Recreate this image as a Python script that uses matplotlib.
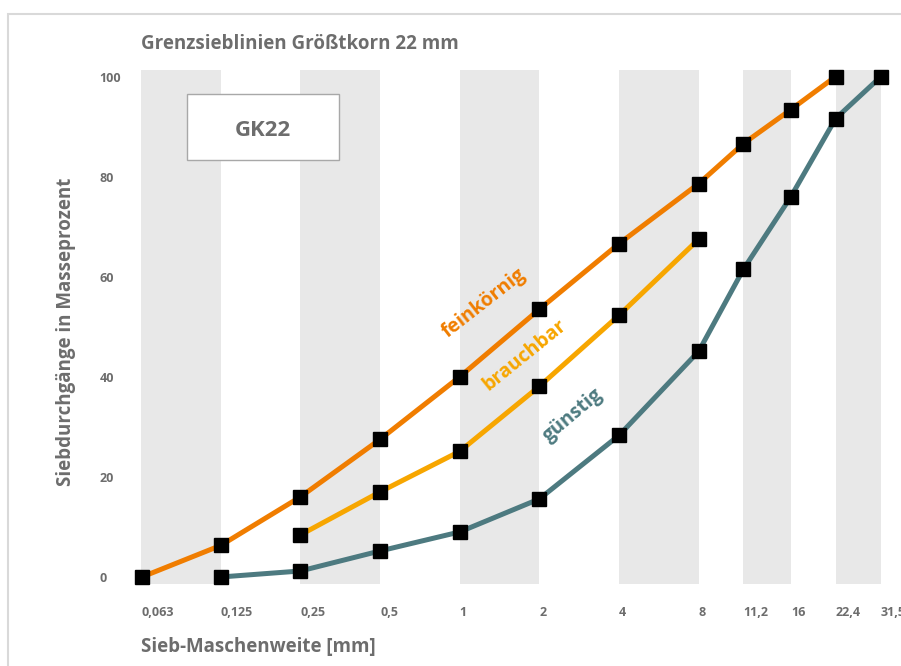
import numpy as np
import matplotlib
matplotlib.use('Agg')
import matplotlib.pyplot as plt
from matplotlib.patches import Rectangle

plt.rcParams['font.family'] = ['Open Sans', 'DejaVu Sans']

# sieve sizes (mm) and their tick labels
sieves = [0.063, 0.125, 0.25, 0.5, 1, 2, 4, 8, 11.2, 16, 22.4, 31.5]
sieve_labels = ['0,063', '0,125', '0,25', '0,5', '1', '2', '4', '8',
                '11,2', '16', '22,4', '31,5']

# grading curves, passing in mass percent
fein_x = [0.063, 0.125, 0.25, 0.5, 1, 2, 4, 8, 11.2, 16, 22.4]
fein_y = [0, 6.3, 16, 27.5, 40, 53.5, 66.6, 78.6, 86.6, 93.4, 100]
brauch_x = [0.25, 0.5, 1, 2, 4, 8]
brauch_y = [8.4, 17, 25.1, 38.1, 52.3, 67.5]
guenst_x = [0.125, 0.25, 0.5, 1, 2, 4, 8, 11.2, 16, 22.4, 31.5]
guenst_y = [0, 1.2, 5.2, 9, 15.6, 28.3, 45.1, 61.5, 76, 91.6, 100]

ORANGE = '#f07d00'
YELLOW = '#f7a600'
TEAL = '#4d7a80'
GREY = '#6d6d6d'
BAND = '#e8e8e8'

# sieve axis: log2 up to 8 mm, stretched above
K = 1.157


def fwd(x):
    with np.errstate(divide='ignore', invalid='ignore'):
        l = np.log2(np.clip(x, 1e-9, None))
    return np.where(l <= 3, l, 3 + K * (l - 3))


def inv(y):
    return np.where(y <= 3, 2.0 ** y, 2.0 ** (3 + (y - 3) / K))


fig = plt.figure(figsize=(9.01, 6.66), dpi=100)
ax = fig.add_axes([141 / 901, 1 - 584 / 666, 740 / 901, 514 / 666])
ax.set_xscale('function', functions=(fwd, inv))
ax.set_xlim(0.0625, 31.5)
ax.set_ylim(-1.4, 101.3)

# alternating grey columns
edges = [0.0625] + sieves[1:]
for i in range(0, len(edges) - 1, 2):
    ax.axvspan(edges[i], edges[i + 1], color=BAND, lw=0, zorder=0)

for xs, ys, c in [(fein_x, fein_y, ORANGE), (brauch_x, brauch_y, YELLOW),
                  (guenst_x, guenst_y, TEAL)]:
    ax.plot(xs, ys, color=c, lw=3.6, zorder=2, solid_capstyle='butt')
    ax.plot(xs, ys, 's', color='black', ms=10, zorder=3, clip_on=False)

for s in ax.spines.values():
    s.set_visible(False)

ax.set_xticks(sieves)
ax.set_xticklabels(sieve_labels)
ax.set_yticks([0, 20, 40, 60, 80, 100])
ax.tick_params(length=0, labelsize=9, labelcolor=GREY)
ax.tick_params(axis='x', pad=16)
ax.tick_params(axis='y', pad=30)
for t in ax.get_xticklabels():
    t.set_ha('left')
    t.set_fontweight('bold')
for t in ax.get_yticklabels():
    t.set_ha('left')
    t.set_fontweight('bold')
ax.minorticks_off()

ax.text(0.4635, 0.5467, 'feinkörnig', color=ORANGE, rotation=38, fontsize=14,
        fontweight='bold', ha='center', va='center', transform=ax.transAxes)
ax.text(0.519, 0.4455, 'brauchbar', color=YELLOW, rotation=39, fontsize=14,
        fontweight='bold', ha='center', va='center', transform=ax.transAxes)
ax.text(0.584, 0.329, 'günstig', color=TEAL, rotation=40, fontsize=14,
        fontweight='bold', ha='center', va='center', transform=ax.transAxes)

fig.text(141 / 901, 1 - 44 / 666, 'Grenzsieblinien Größtkorn 22 mm',
         color=GREY, fontsize=13.5, fontweight='bold', va='center')
fig.text(141 / 901, 1 - 647 / 666, 'Sieb-Maschenweite [mm]',
         color=GREY, fontsize=13.5, fontweight='bold', va='center')
fig.text(66 / 901, 1 - 332 / 666, 'Siebdurchgänge in Masseprozent',
         color=GREY, fontsize=13.5, fontweight='bold', rotation=90,
         ha='center', va='center')

# GK22 box
fig.patches.append(Rectangle((187 / 901, 1 - 160 / 666), 152 / 901, 66 / 666,
                             transform=fig.transFigure, facecolor='white',
                             edgecolor='#a8a8a8', lw=1, zorder=5))
fig.text(263 / 901, 1 - 130 / 666, 'GK22', color=GREY, fontsize=16,
         fontweight='bold', ha='center', va='center', zorder=6)

# outer frame
fig.patches.append(Rectangle((8 / 901, -0.1), 1.2, 1 - 14 / 666 + 0.1,
                             transform=fig.transFigure, fill=False,
                             edgecolor='#d9d9d9', lw=1.5))

fig.savefig('out.png', dpi=100)
